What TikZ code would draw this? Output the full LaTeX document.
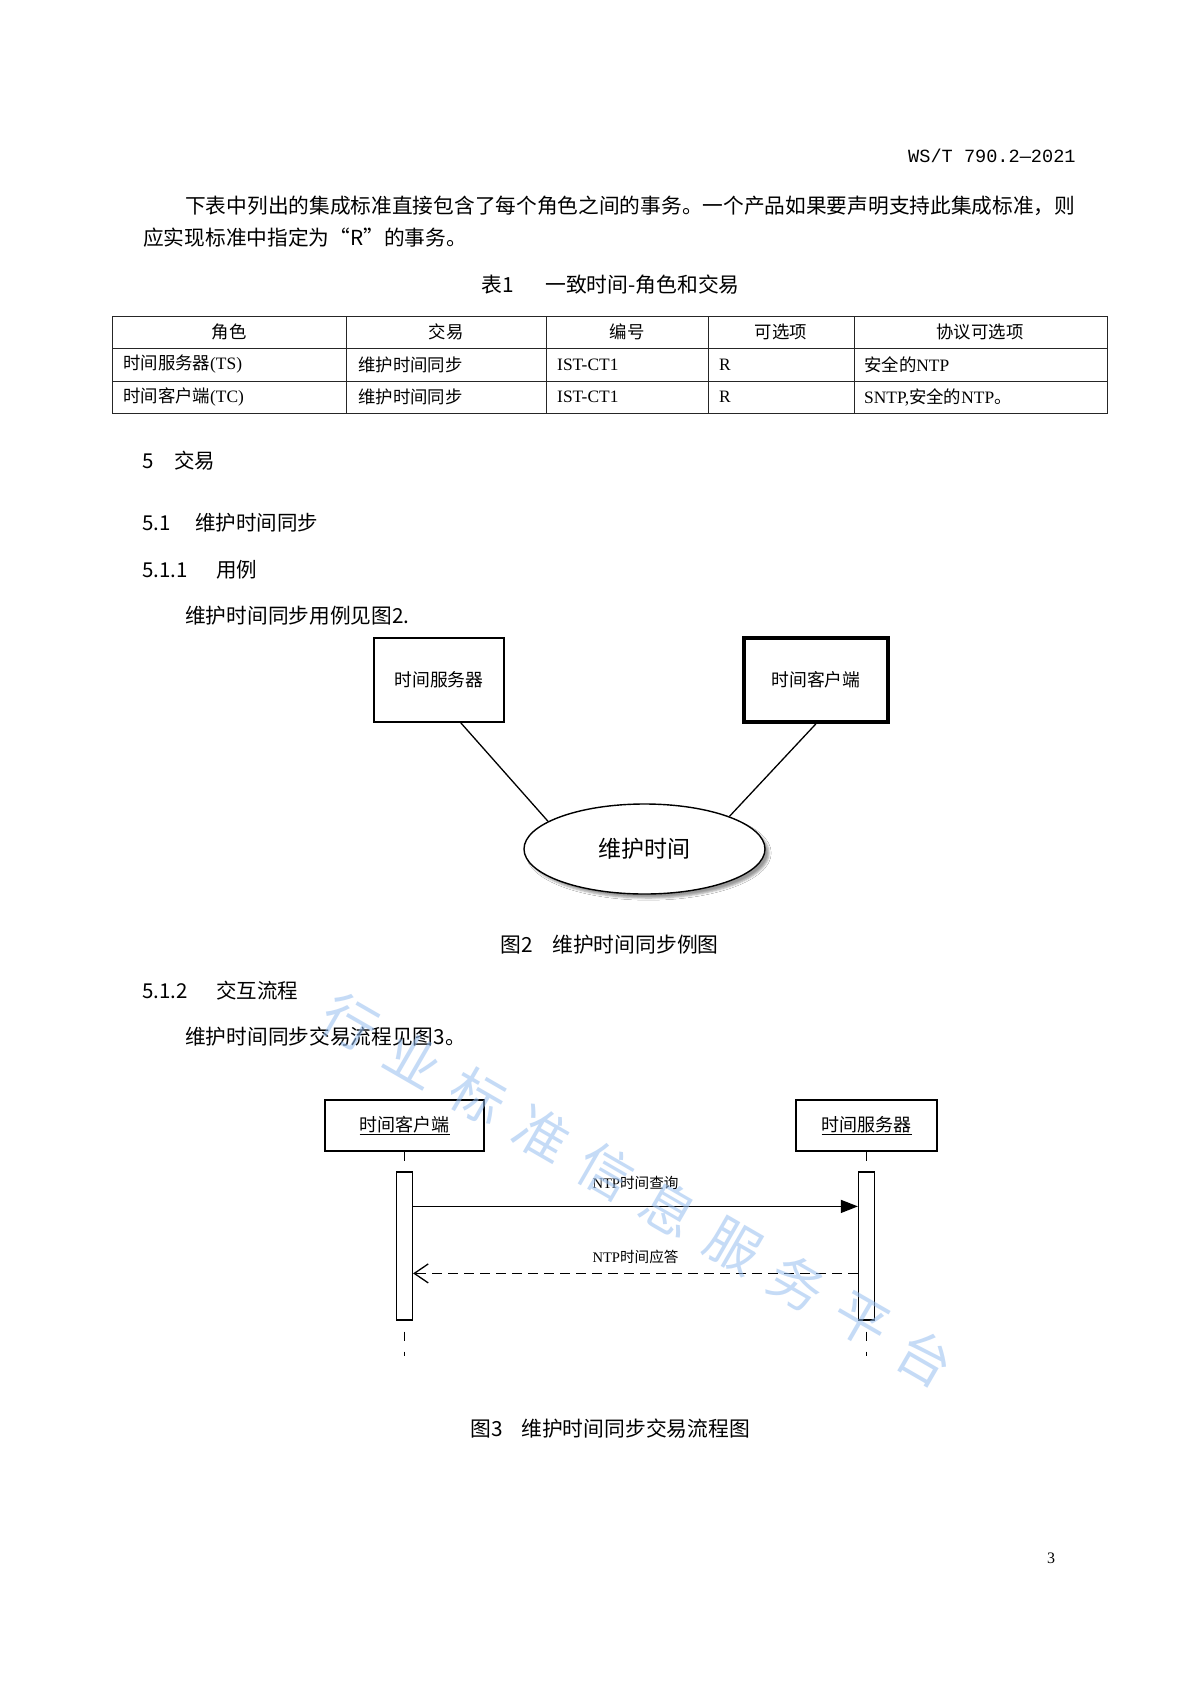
\documentclass[tikz,border=0pt]{standalone}
\usepackage{fontspec}
\setmainfont{Noto Sans CJK SC}
\newfontfamily\latserif{Liberation Serif}
\newfontfamily\hdrmono{Liberation Mono}
\usepackage{tikz}
\usetikzlibrary{
  positioning,
  shapes.geometric,
  shadows.blur,
  arrows.meta
}
\definecolor{wmblue}{RGB}{150,190,240}

\tikzset{
  txt/.style={anchor=west, inner sep=0pt, font=\fontsize{20.7}{24}\selectfont},
  sechead/.style={anchor=west, inner sep=0pt, font=\fontsize{20.5}{24}\selectfont},
  figcap/.style={anchor=west, inner sep=0pt, font=\fontsize{20.8}{24}\selectfont},
  cell/.style={inner sep=0pt, font=\fontsize{17.4}{20}\selectfont},
  rule/.style={line width=1pt, black!85},
  actor/.style={draw, line width=1.8pt, minimum width=130pt, minimum height=84pt, font=\fontsize{17.8}{20}\selectfont},
  usecase/.style={ellipse, draw, line width=1.4pt, fill=white, minimum width=241pt, minimum height=90pt, inner sep=0pt,
    font=\fontsize{23}{26}\selectfont, blur shadow={shadow xshift=4pt, shadow yshift=-4pt}},
  assoc/.style={line width=1.3pt},
  lifebox/.style={draw, line width=1.3pt, minimum height=51pt, font=\fontsize{18}{20}\selectfont},
  actbar/.style={draw, fill=white, line width=1.2pt, minimum width=16pt, minimum height=148pt, inner sep=0pt},
  lifeline/.style={line width=1.2pt, dash pattern=on 9pt off 11pt},
  msg/.style={line width=1.3pt, -{Triangle[length=17pt,width=13pt]}},
  reply/.style={line width=1.3pt, dash pattern=on 10pt off 6pt, -{Straight Barb[length=14pt,width=19pt]}},
  msglabel/.style={inner sep=0pt, font=\fontsize{14.6}{17}\selectfont},
  wmark/.style={inner sep=0pt, text=wmblue, opacity=0.55, font=\fontsize{54}{56}\selectfont}
}

\begin{document}
\begin{tikzpicture}[x=1pt, y=-1pt]
    \fill[white] (0,0) rectangle (1190,1684);
    \useasboundingbox (0,0) rectangle (1190,1684);

    % page header and text
    \node[anchor=west, inner sep=0pt, font=\hdrmono\fontsize{18.6}{22}\selectfont] (hdr) at (908,156) {WS/T 790.2—2021};
    \node[txt] (p1) at (185,206) {下表中列出的集成标准直接包含了每个角色之间的事务。一个产品如果要声明支持此集成标准，则};
    \node[txt] (p2) at (143,238) {应实现标准中指定为“R”的事务。};
    \node[figcap] (tabn) at (481,285) {表1};
    \node[figcap] (tabcap) at (545,285) {一致时间-角色和交易};

    % table 1
    \draw[rule] (112,316) rectangle (1107,413);
    \foreach \y in {348,381} \draw[rule] (112,\y) -- (1107,\y);
    \foreach \x in {346,546,708,854} \draw[rule] (\x,316) -- (\x,413);
    \foreach \x/\t [count=\i] in {229/角色, 446/交易, 627/编号, 781/可选项, 980/协议可选项}
        \node[cell] (hd\i) at (\x,332) {\t};
    \node[cell, anchor=west] (ra) at (123,364.5) {时间服务器{\latserif (TS)}};
    \node[cell, anchor=west] (rb) at (358,364.5) {维护时间同步};
    \node[cell, anchor=west] (rc) at (557,364.5) {\latserif IST-CT1};
    \node[cell, anchor=west] (rd) at (719,364.5) {\latserif R};
    \node[cell, anchor=west] (re) at (864,364.5) {安全的{\latserif NTP}};
    \node[cell, anchor=west] (sa) at (123,397) {时间客户端{\latserif (TC)}};
    \node[cell, anchor=west] (sb) at (358,397) {维护时间同步};
    \node[cell, anchor=west] (sc) at (557,397) {\latserif IST-CT1};
    \node[cell, anchor=west] (sd) at (719,397) {\latserif R};
    \node[cell, anchor=west] (se) at (864,397) {{\latserif SNTP,}安全的{\latserif NTP}。};

    % headings
    \node[sechead] (s5n) at (142,461) {5};
    \node[sechead] (s5) at (174,461) {交易};
    \node[sechead] (s51n) at (142,523) {5.1};
    \node[sechead] (s51) at (195,523) {维护时间同步};
    \node[sechead] (s511n) at (142,570) {5.1.1};
    \node[sechead] (s511) at (216,570) {用例};
    \node[txt] (p3) at (185,616) {维护时间同步用例见图2.};

    % figure 2: use case
    \node[actor] (ts) at (439,680) {时间服务器};
    \node[actor, line width=3.5pt, minimum width=144pt] (tc) at (816,680) {时间客户端};
    \node[usecase] (sync) at (644.5,849) {维护时间};
    \draw[assoc] (ts.-63) -- (sync.164);
    \draw[assoc] (tc.south) -- (sync.21);
    \node[figcap] (f2n) at (500,945) {图2};
    \node[figcap] (f2) at (552,945) {维护时间同步例图};

    \node[sechead] (s512n) at (142,991) {5.1.2};
    \node[sechead] (s512) at (216,991) {交互流程};
    \node[txt] (p4) at (185,1037) {维护时间同步交易流程见图3。};

    % figure 3: sequence
    \node[lifebox, minimum width=159pt] (cli) at (404.5,1125.5) {\underline{时间客户端}};
    \node[lifebox, minimum width=141pt] (srv) at (866.5,1125.5) {\underline{时间服务器}};
    \coordinate (cliend) at (404.5,1356);
    \coordinate (srvend) at (866.5,1356);
    \draw[lifeline] (cli) -- (cliend);
    \draw[lifeline] (srv) -- (srvend);
    \node[actbar] (cbar) at (404.5,1246) {};
    \node[actbar] (sbar) at (866.5,1246) {};
    \draw[msg] ([yshift=-35pt]cbar.north east) -- node[msglabel, yshift=23pt] (qlab) {{\latserif NTP}时间查询} ([yshift=-35pt]sbar.north west);
    \draw[reply] ([yshift=-102pt]sbar.north west) -- node[msglabel, yshift=16pt] (rlab) {{\latserif NTP}时间应答} ([yshift=-102pt]cbar.north east);
    \node[figcap] (f3n) at (470,1429) {图3};
    \node[figcap] (f3) at (521,1429) {维护时间同步交易流程图};

    \node[inner sep=0pt, font=\latserif\fontsize{16}{18}\selectfont] (pg) at (1051,1558) {3};

    % watermark
    \foreach \c [count=\i from 0] in {行,业,标,准,信,息,服,务,平,台}
        \node[wmark, rotate=-30] (wm\i) at ({350+63.9*\i},{1022+37.3*\i}) {\c};
\end{tikzpicture}
\end{document}
